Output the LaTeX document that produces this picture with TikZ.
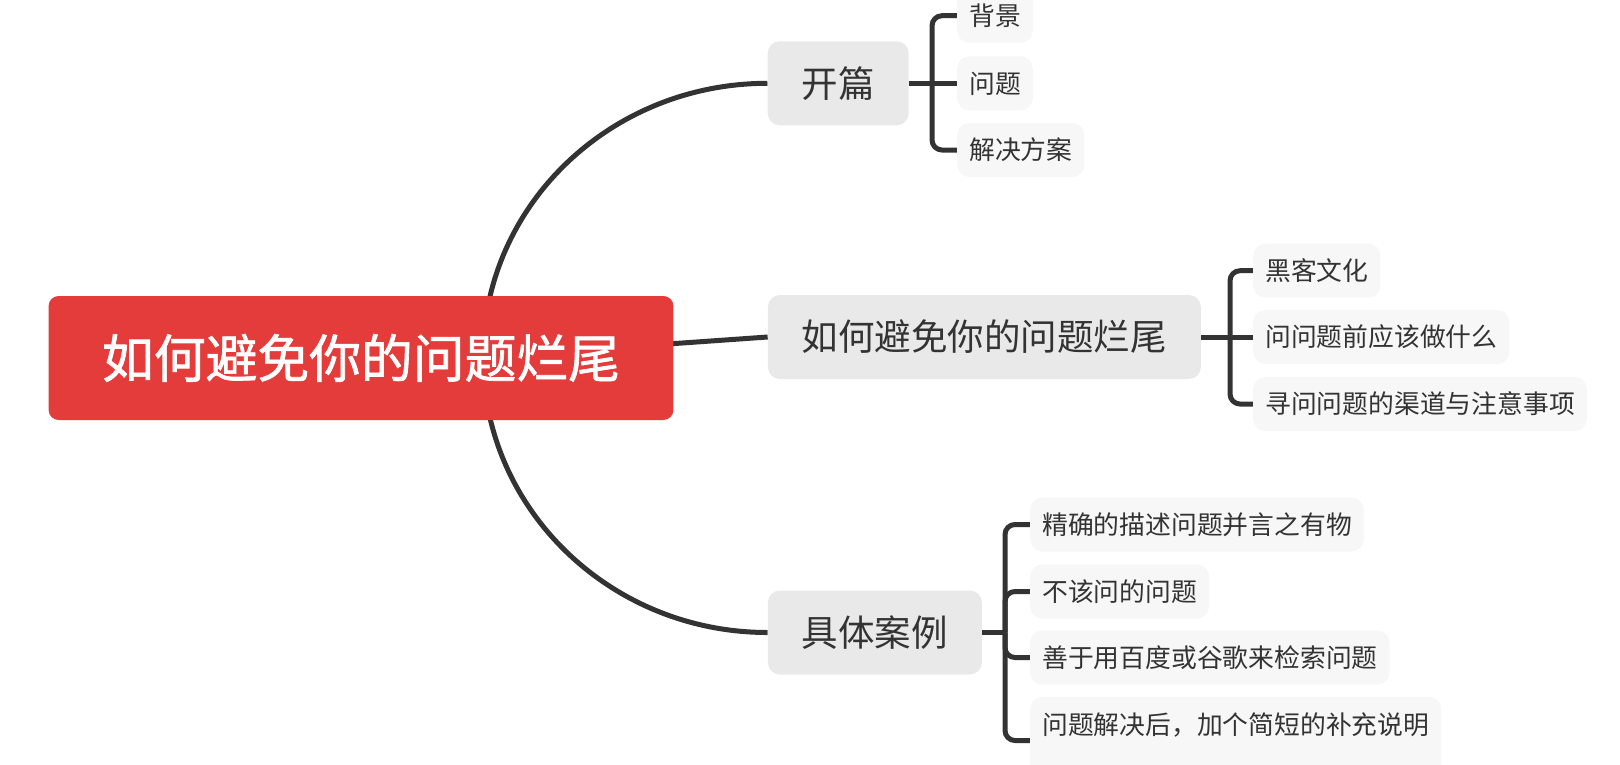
\documentclass[tikz,border=0pt]{standalone}
\usepackage{fontspec}
\setmainfont{Noto Sans CJK SC}
\newfontfamily\rootfont{Noto Sans CJK SC}[FakeBold=1.3]
\usetikzlibrary{backgrounds}
\definecolor{rootred}{RGB}{228,60,58}
\definecolor{branchgray}{RGB}{233,233,233}
\definecolor{leafgray}{RGB}{247,247,247}
\definecolor{inkgray}{RGB}{51,51,51}
\definecolor{linegray}{RGB}{51,51,51}
\begin{document}
\begin{tikzpicture}[x=1pt,y=-1pt,
  conn/.style={draw=linegray, line width=5pt},
  rootbox/.style={fill=rootred, rounded corners=10pt, text=white,
    font=\rootfont\fontsize{51.8}{56}\selectfont, minimum width=624.8pt,
    minimum height=124pt, inner sep=0pt, text height=43pt, text depth=3.6pt},
  branchbox/.style={fill=branchgray, rounded corners=12pt, text=inkgray,
    font=\fontsize{36.5}{40}\selectfont, inner xsep=34pt, inner ysep=0pt,
    minimum height=84pt, text height=30.3pt, text depth=2.6pt, anchor=west},
  leafbox/.style={fill=leafgray, rounded corners=12pt, text=inkgray,
    font=\fontsize{25.8}{30}\selectfont, inner xsep=12pt, inner ysep=0pt,
    minimum height=54pt, text height=21.4pt, text depth=1.8pt, anchor=west}]
\useasboundingbox (0,0) rectangle (1620,764);
\clip (0,0) rectangle (1620,764);

% root
\node[rootbox] (root) at (361,358) {如何避免你的问题烂尾};
\coordinate (rc) at (483,357);

% main branches
\node[branchbox] (b1) at (767.5,83.3) {开篇};
\node[branchbox] (b2) at (767.7,337) {如何避免你的问题烂尾};
\node[branchbox] (b3) at (767.7,632.5) {具体案例};

% leaves of b1
\node[leafbox] (l1) at (957,15.7) {背景};
\node[leafbox] (l2) at (957,83.3) {问题};
\node[leafbox] (l3) at (957,150) {解决方案};

% leaves of b2
\node[leafbox] (k1) at (1253,270.7) {黑客文化};
\node[leafbox] (k2) at (1253,337) {问问题前应该做什么};
\node[leafbox] (k3) at (1253,404) {寻问问题的渠道与注意事项};

% leaves of b3
\node[leafbox] (m1) at (1030,524.5) {精确的描述问题并言之有物};
\node[leafbox] (m2) at (1030,591.5) {不该问的问题};
\node[leafbox] (m3) at (1030,657.5) {善于用百度或谷歌来检索问题};
\node[leafbox, text depth=32.8pt, inner ysep=16.4pt] (m4) at (1030,740.5) {问题解决后，加个简短的补充说明};

\coordinate (j1) at (932,83.3);
\coordinate (j2) at (1230,337);
\coordinate (j3) at (1005,632.5);

\begin{pgfonlayer}{background}
\draw[conn] (rc) .. controls (483,205.8) and (610.2,83.3) .. (b1.west);
\draw[conn] (rc) -- (b2.west);
\draw[conn] (rc) .. controls (483,509) and (610.2,632.5) .. (b3.west);

\draw[conn] (b1.east) -- (j1);
\draw[conn, rounded corners=10pt] (j1) |- (l1.west);
\draw[conn] (j1) -- (l2.west);
\draw[conn, rounded corners=10pt] (j1) |- (l3.west);

\draw[conn] (b2.east) -- (j2);
\draw[conn, rounded corners=10pt] (j2) |- (k1.west);
\draw[conn] (j2) -- (k2.west);
\draw[conn, rounded corners=10pt] (j2) |- (k3.west);

\draw[conn] (b3.east) -- (j3);
\draw[conn, rounded corners=10pt] (j3) |- (m1.west);
\draw[conn, rounded corners=10pt] (j3) |- (m2.west);
\draw[conn, rounded corners=10pt] (j3) |- (m3.west);
\draw[conn, rounded corners=10pt] (j3) |- (m4.west);
\end{pgfonlayer}
\end{tikzpicture}
\end{document}
